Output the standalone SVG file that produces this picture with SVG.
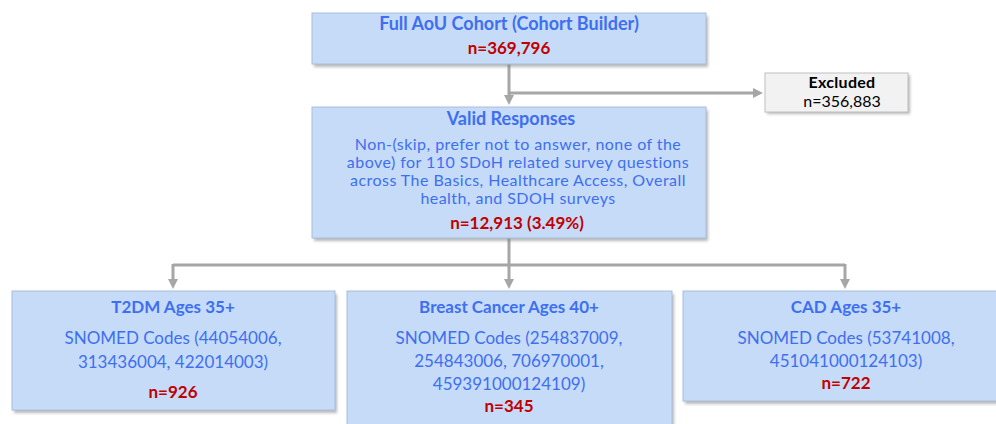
<svg xmlns="http://www.w3.org/2000/svg" width="996" height="424" viewBox="0 0 996 424">
<defs>
<filter id="sh" x="-5%" y="-5%" width="110%" height="120%">
<feGaussianBlur stdDeviation="1.5"/>
</filter>
<marker id="ah" markerWidth="10" markerHeight="10" refX="5" refY="5" orient="auto" markerUnits="userSpaceOnUse">
<path d="M0,0 L10,5 L0,10 Z" fill="#a6a6a6"/>
</marker>
</defs>
<style>
.box{fill:#c6dbf8;stroke:#a9bedb;stroke-width:1}
.ex{fill:#f2f2f2;stroke:#bfbfbf;stroke-width:1}
.shd{fill:#7f7f7f;opacity:0.55;filter:url(#sh)}
text{font-family:Lato,"Open Sans","Liberation Sans",sans-serif;text-anchor:middle}
.t{fill:#3e6ff0;font-weight:bold;font-size:17px}
.b{fill:#3e6ff0;font-size:17px}
.bv{fill:#3e6ff0;font-size:16px;letter-spacing:0.45px}
.n{fill:#c00000;font-weight:bold;font-size:17px}
.k{fill:#000;font-size:16px}
.kb{fill:#000;font-size:16px;font-weight:bold;letter-spacing:0.3px}
.c{fill:none;stroke:#a6a6a6;stroke-width:3}
</style>
<g id="connectors">
<path class="c" d="M509,64 V100" marker-end="url(#ah)"/>
<path class="c" d="M509,93 H758" marker-end="url(#ah)"/>
<path class="c" d="M509,238 V265"/>
<path class="c" d="M173,265 H845"/>
<path class="c" d="M173,264 V284" marker-end="url(#ah)"/>
<path class="c" d="M509,265 V284" marker-end="url(#ah)"/>
<path class="c" d="M845,264 V284" marker-end="url(#ah)"/>
</g>
<g id="full">
<rect class="shd" x="314" y="16" width="394" height="51"/>
<rect class="box" x="312" y="13" width="394" height="51"/>
<text class="t" x="509" y="30" style="font-size:18px">Full AoU Cohort (Cohort Builder)</text>
<text class="n" x="509" y="54">n=369,796</text>
</g>
<g id="excluded">
<rect class="shd" x="767" y="75" width="143" height="39"/>
<rect class="ex" x="765" y="73" width="143" height="39"/>
<text class="kb" x="842" y="88">Excluded</text>
<text class="k" x="842" y="107">n=356,883</text>
</g>
<g id="valid">
<rect class="shd" x="314" y="110" width="394" height="131"/>
<rect class="box" x="312" y="107" width="394" height="131"/>
<text class="t" x="511" y="125" style="font-size:18px">Valid Responses</text>
<text class="bv" x="518" y="150">Non-(skip, prefer not to answer, none of the</text>
<text class="bv" x="518" y="168">above) for 110 SDoH related survey questions</text>
<text class="bv" x="518" y="186">across The Basics, Healthcare Access, Overall</text>
<text class="bv" x="518" y="204">health, and SDOH surveys</text>
<text class="n" x="517" y="229">n=12,913 (3.49%)</text>
</g>
<g id="t2dm">
<rect class="shd" x="14" y="294" width="323" height="119"/>
<rect class="box" x="12" y="291" width="323" height="119"/>
<text class="t" x="173" y="313">T2DM Ages 35+</text>
<text class="b" x="173" y="344">SNOMED Codes (44054006,</text>
<text class="b" x="173" y="368">313436004, 422014003)</text>
<text class="n" x="173" y="398">n=926</text>
</g>
<g id="breast">
<rect class="shd" x="349" y="294" width="325" height="140"/>
<rect class="box" x="347" y="291" width="325" height="140"/>
<text class="t" x="509" y="313">Breast Cancer Ages 40+</text>
<text class="b" x="509" y="344">SNOMED Codes (254837009,</text>
<text class="b" x="509" y="367">254843006, 706970001,</text>
<text class="b" x="509" y="390">459391000124109)</text>
<text class="n" x="509" y="412">n=345</text>
</g>
<g id="cad">
<rect class="shd" x="685" y="294" width="320" height="110"/>
<rect class="box" x="683" y="291" width="320" height="110"/>
<text class="t" x="846" y="313">CAD Ages 35+</text>
<text class="b" x="846" y="344">SNOMED Codes (53741008,</text>
<text class="b" x="846" y="367">451041000124103)</text>
<text class="n" x="846" y="389">n=722</text>
</g>
</svg>
